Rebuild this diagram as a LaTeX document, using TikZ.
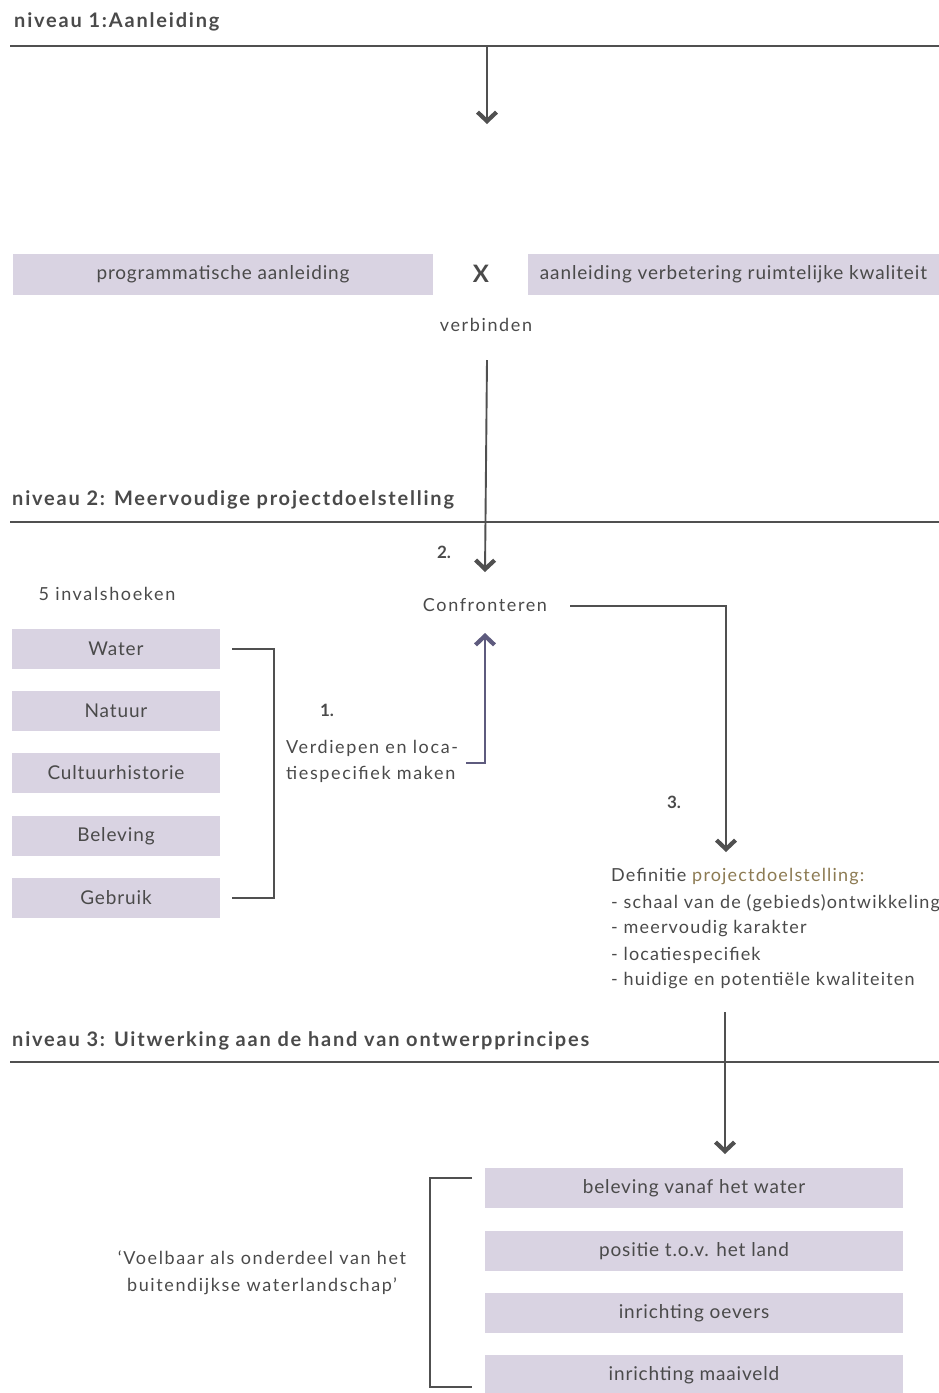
\documentclass[tikz,border=0pt]{standalone}
\usepackage{fontspec}
\setmainfont{Lato}
\newfontfamily\spacedfont[LetterSpace=9]{Lato}
\newfontfamily\deffont[LetterSpace=6.5]{Lato}
\newfontfamily\boxfont[LetterSpace=4.5]{Lato}
\usetikzlibrary{arrows.meta}
\definecolor{boxc}{HTML}{D9D3E2}
\definecolor{txt}{HTML}{4A4A4A}
\definecolor{rule}{HTML}{505050}
\definecolor{purp}{HTML}{5E5B7E}
\definecolor{olive}{HTML}{8C7A52}
\tikzset{
  x=1pt, y=-1pt,
  box/.style={fill=boxc, inner sep=0pt, text=txt, font=\boxfont\fontsize{19}{22}\selectfont},
  lbl/.style={text=txt, inner sep=0pt, font=\spacedfont\fontsize{18}{21}\selectfont},
  deflbl/.style={text=txt, inner sep=0pt, anchor=west, font=\deffont\fontsize{18}{21}\selectfont},
  head/.style={text=txt, inner sep=0pt, anchor=west, font=\spacedfont\fontsize{20}{23}\selectfont\bfseries},
  hrule/.style={draw=rule, line width=2pt},
  conn/.style={draw=rule, line width=1.9pt},
  tip/.style={-{Straight Barb[length=9pt,width=19pt,line width=4.2pt]}},
  arr/.style={conn, tip},
}
\begin{document}
\begin{tikzpicture}
\useasboundingbox (0,0) rectangle (939,1393);
\clip (0,0) rectangle (939,1393);
% level 1
\node[head] (h1) at (14,22) {niveau 1:Aanleiding};
\coordinate (r1a) at (10,46); \coordinate (r1b) at (939,46);
\draw[hrule] (r1a) -- (r1b);
\coordinate (a1s) at (487,46); \coordinate (a1e) at (487,124);
\draw[arr] (a1s) -- (a1e);
\node[box, minimum width=420, minimum height=41] (pa) at (223,274.5) {programmatische aanleiding};
\node[box, minimum width=411, minimum height=41] (av) at (733.5,274.5) {aanleiding verbetering ruimtelijke kwaliteit};
\node[text=txt, inner sep=0pt, font=\fontsize{24}{28}\selectfont\bfseries] (x) at (481,274) {X};
\node[lbl] (verb) at (486,325) {verbinden};
\coordinate (a2s) at (487,360);
% level 2
\node[head] (h2) at (12,500) {niveau 2: Meervoudige projectdoelstelling};
\coordinate (r2a) at (10,522); \coordinate (r2b) at (939,522);
\draw[hrule] (r2a) -- (r2b);
\node[lbl, font=\fontsize{17}{21}\selectfont\bfseries] (n2) at (444,552) {2.};
\node[lbl] (conf) at (485,605) {Confronteren};
\draw[arr] (a2s) -- (conf.north |- 0,572);
\node[lbl] (inv) at (107,594) {5 invalshoeken};
\node[box, minimum width=208, minimum height=40] (w) at (116,649) {Water};
\node[box, minimum width=208, minimum height=40] (n) at (116,711) {Natuur};
\node[box, minimum width=208, minimum height=40] (c) at (116,773) {Cultuurhistorie};
\node[box, minimum width=208, minimum height=40] (b) at (116,836) {Beleving};
\node[box, minimum width=208, minimum height=40] (g) at (116,898) {Gebruik};
\coordinate (bw) at (274,649); \coordinate (bg) at (274,898);
\draw[conn] ([xshift=12pt]w.east) -- (bw) -- (bg) -- ([xshift=12pt]g.east);
\node[lbl, font=\fontsize{17}{21}\selectfont\bfseries] (n1) at (327,710) {1.};
\node[lbl, anchor=north west, align=left, font=\spacedfont\fontsize{18}{26}\selectfont] (verd) at (286,740) {Verdiepen en loca-\\tiespecifiek maken};
\coordinate (p1) at (485,763);
\draw[draw=purp, line width=1.9pt, tip] (466,763) -- (p1) -- (485,633);
% confronteren -> definitie
\coordinate (c1) at (726,606); \coordinate (c2) at (726,852);
\draw[arr] (570,606) -- (c1) -- (c2);
\node[lbl, font=\fontsize{17}{21}\selectfont\bfseries] (n3) at (674,802) {3.};
\node[deflbl] (d0) at (611,877) {Definitie \textcolor{olive}{projectdoelstelling:}};
\node[deflbl] (d1) at (611,903) {- schaal van de (gebieds)ontwikkeling};
\node[deflbl] (d2) at (611,929) {- meervoudig karakter};
\node[deflbl] (d3) at (611,955) {- locatiespecifiek};
\node[deflbl] (d4) at (611,981) {- huidige en potentiële kwaliteiten};
% level 3
\node[head] (h3) at (12,1041) {niveau 3: Uitwerking aan de hand van ontwerpprincipes};
\coordinate (r3a) at (10,1062); \coordinate (r3b) at (939,1062);
\draw[hrule] (r3a) -- (r3b);
\coordinate (a3s) at (725,1012); \coordinate (a3e) at (725,1154);
\draw[arr] (a3s) -- (a3e);
\node[box, minimum width=418, minimum height=40] (o1) at (694,1188) {beleving vanaf het water};
\node[box, minimum width=418, minimum height=40] (o2) at (694,1251) {positie t.o.v. het land};
\node[box, minimum width=418, minimum height=40] (o3) at (694,1313) {inrichting oevers};
\node[box, minimum width=418, minimum height=40] (o4) at (694,1375) {inrichting maaiveld};
\coordinate (q1) at (430,1178); \coordinate (q2) at (430,1387);
\draw[conn] (472,1178) -- (q1) -- (q2) -- (472,1387);
\node[lbl, align=center, font=\spacedfont\fontsize{18}{27}\selectfont] (quote) at (262,1273) {‘Voelbaar als onderdeel van het\\buitendijkse waterlandschap’};
\end{tikzpicture}
\end{document}
